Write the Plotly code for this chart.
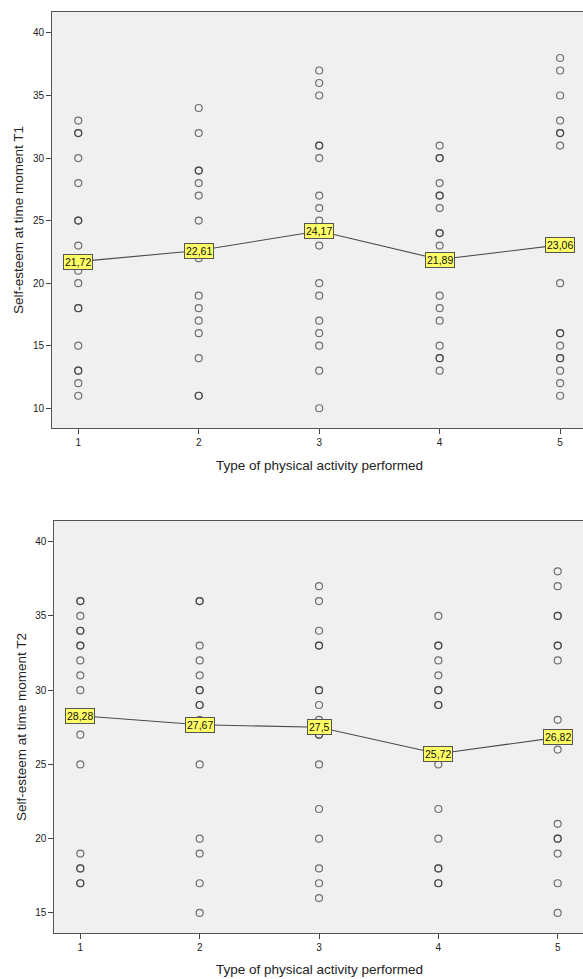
import plotly.graph_objects as go

# ---- data ----
categories = [1, 2, 3, 4, 5]

t1_points = {
    1: [33, 32, 32, 30, 28, 25, 25, 23, 22, 21, 20, 18, 18, 15, 13, 13, 12, 11],
    2: [34, 32, 29, 29, 28, 27, 25, 22, 19, 18, 17, 16, 14, 11, 11],
    3: [37, 36, 35, 31, 31, 30, 27, 26, 25, 24, 23, 20, 19, 17, 16, 15, 13, 10],
    4: [31, 30, 30, 28, 27, 27, 26, 24, 24, 23, 19, 18, 17, 15, 14, 14, 13],
    5: [38, 37, 35, 33, 32, 32, 31, 20, 16, 16, 15, 14, 14, 13, 12, 11],
}
t1_means = [21.72, 22.61, 24.17, 21.89, 23.06]
t1_labels = ["21,72", "22,61", "24,17", "21,89", "23,06"]

t2_points = {
    1: [36, 36, 35, 34, 34, 33, 33, 32, 31, 30, 28, 27, 25, 19, 18, 18, 17, 17],
    2: [36, 36, 33, 32, 31, 30, 30, 29, 29, 28, 25, 20, 19, 17, 15],
    3: [37, 36, 34, 33, 33, 30, 30, 29, 28, 27, 27, 25, 22, 20, 18, 17, 16],
    4: [35, 33, 33, 32, 31, 30, 30, 29, 29, 25, 22, 20, 18, 18, 17, 17],
    5: [38, 37, 35, 35, 33, 33, 32, 28, 26, 21, 20, 20, 19, 17, 15],
}
t2_means = [28.28, 27.67, 27.5, 25.72, 26.82]
t2_labels = ["28,28", "27,67", "27,5", "25,72", "26,82"]

x_title = "Type of physical activity performed"
y1_title = "Self-esteem at time moment T1"
y2_title = "Self-esteem at time moment T2"

y1_ticks = [10, 15, 20, 25, 30, 35, 40]
y2_ticks = [15, 20, 25, 30, 35, 40]

FONT = "Liberation Sans, Arial, sans-serif"
W, H = 583, 979

fig = go.Figure()

def add_panel(points, means, labels, xa, ya):
    xs, ys = [], []
    for c in categories:
        for v in points[c]:
            xs.append(c)
            ys.append(v)
    fig.add_trace(go.Scatter(
        x=xs, y=ys, mode="markers", xaxis=xa, yaxis=ya,
        marker=dict(symbol="circle-open", size=7, color="rgba(50,50,50,0.68)",
                    line=dict(width=1.2)),
        showlegend=False, hoverinfo="skip"))
    fig.add_trace(go.Scatter(
        x=categories, y=means, mode="lines", xaxis=xa, yaxis=ya,
        line=dict(color="#4a4a4a", width=1.1),
        showlegend=False, hoverinfo="skip"))
    for c, m, t in zip(categories, means, labels):
        fig.add_annotation(
            x=c, y=m, xref=xa, yref=ya, text=t, showarrow=False,
            font=dict(family=FONT, size=10.5, color="#111"),
            bgcolor="#ffff66", bordercolor="#555555", borderwidth=1, borderpad=1)

add_panel(t1_points, t1_means, t1_labels, "x", "y")
add_panel(t2_points, t2_means, t2_labels, "x2", "y2")

axis_common = dict(
    showgrid=False, zeroline=False, showline=True, linecolor="#555555", linewidth=1,
    ticks="outside", ticklen=5, tickcolor="#444444",
    tickfont=dict(family=FONT, size=10, color="#222"),
)

# panel geometry (pixels)
top1, bot1, left1 = 11.7, 428.0, 52.0
top2, bot2, left2 = 520.7, 933.3, 54.3

fig.update_layout(
    width=W, height=H,
    margin=dict(l=0, r=0, t=0, b=0),
    paper_bgcolor="white", plot_bgcolor="#f0f0f0",
    xaxis=dict(axis_common, domain=[left1 / W, 1], range=[0.782, 5.19],
               tickvals=categories, mirror=True, anchor="y"),
    yaxis=dict(axis_common, domain=[(H - bot1) / H, (H - top1) / H], range=[8.42, 41.7],
               tickvals=y1_ticks, anchor="x"),
    xaxis2=dict(axis_common, domain=[left2 / W, 1], range=[0.782, 5.212],
                tickvals=categories, mirror=True, anchor="y2"),
    yaxis2=dict(axis_common, domain=[(H - bot2) / H, (H - top2) / H], range=[13.63, 41.41],
                tickvals=y2_ticks, anchor="x2"),
)

title_font = dict(family=FONT, size=13.5, color="#222")
fig.add_annotation(x=319.5 / W, y=(H - 465) / H, xref="paper", yref="paper",
                   text=x_title, showarrow=False, font=title_font,
                   xanchor="center", yanchor="middle")
fig.add_annotation(x=319 / W, y=(H - 969) / H, xref="paper", yref="paper",
                   text=x_title, showarrow=False, font=title_font,
                   xanchor="center", yanchor="middle")
fig.add_annotation(x=18 / W, y=(H - 220) / H, xref="paper", yref="paper",
                   text=y1_title, showarrow=False, font=title_font, textangle=-90,
                   xanchor="center", yanchor="middle")
fig.add_annotation(x=21 / W, y=(H - 727) / H, xref="paper", yref="paper",
                   text=y2_title, showarrow=False, font=title_font, textangle=-90,
                   xanchor="center", yanchor="middle")

fig.write_html(
    "out.html",
    config={"displayModeBar": False},
    post_script="document.body.style.margin='0';document.body.style.padding='0';"
                "document.body.style.overflow='hidden';"
                "document.documentElement.style.overflow='hidden';",
)
